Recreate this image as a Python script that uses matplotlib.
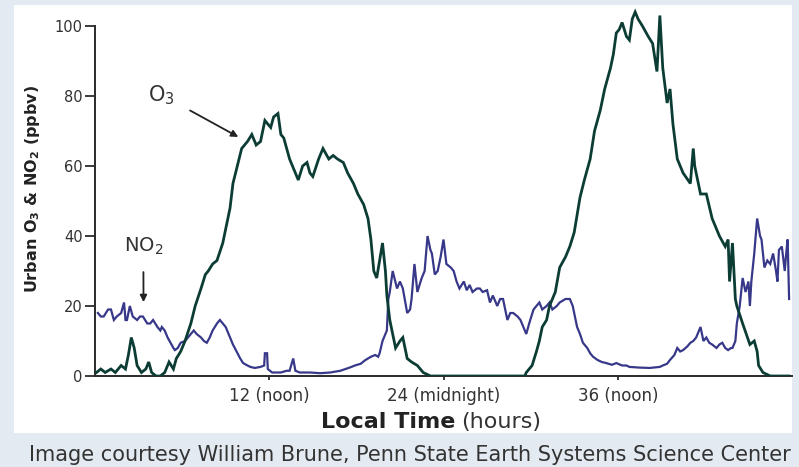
import matplotlib
matplotlib.use("Agg")
import matplotlib.pyplot as plt

# ---------------- data ----------------
o3_hours = [0.1, 0.4, 0.7, 1.1, 1.4, 1.8, 2.1, 2.3, 2.5, 2.7, 2.9, 3.2, 3.5, 3.7, 3.9,
            4.2, 4.5, 4.8, 5.1, 5.4, 5.6, 5.9, 6.2, 6.6, 6.9, 7.3, 7.6, 7.8, 8.1, 8.4,
            8.8, 9.1, 9.3, 9.5, 9.8, 10.1, 10.5, 10.8, 11.1, 11.4, 11.7, 12.1, 12.3, 12.6,
            12.8, 13.0, 13.2, 13.4, 13.7, 14.0, 14.3, 14.6, 14.8, 15.0, 15.4, 15.7, 16.1,
            16.4, 16.7, 17.1, 17.4, 17.8, 18.1, 18.5, 18.8, 19.0, 19.2, 19.4, 19.6, 19.8,
            20.0, 20.1, 20.3, 20.7, 21.0, 21.2, 21.5, 21.8, 22.2, 22.6, 23.1, 26.0, 29.6,
            29.7, 30.1, 30.4, 30.6, 30.8, 31.1, 31.3, 31.7, 32.0, 32.4, 32.7, 33.0, 33.4,
            33.7, 34.1, 34.4, 34.8, 35.1, 35.5, 35.7, 35.9, 36.1, 36.3, 36.6, 36.8, 37.0,
            37.2, 37.4, 37.7, 38.1, 38.4, 38.7, 38.9, 39.1, 39.4, 39.6, 39.8, 40.1, 40.5,
            41.0, 41.2, 41.3, 41.7, 42.1, 42.5, 43.0, 43.4, 43.6, 43.7, 43.9, 44.1, 44.2,
            44.6, 45.1, 45.4, 45.6, 45.7, 46.0, 46.5, 47.8]
o3_ppbv = [1, 2, 1, 2, 1, 3, 2, 6, 11, 8, 3, 1, 2, 4, 1,
           0, 0, 1, 4, 2, 5, 7, 10, 15, 20, 25, 29, 30, 32, 33,
           38, 44, 48, 55, 60, 65, 67, 69, 66, 67, 73, 71, 74, 75,
           69, 68, 65, 62, 59, 56, 60, 61, 58, 57, 62, 65, 62,
           63, 62, 61, 58, 55, 52, 49, 45, 39, 30, 28, 33, 38,
           30, 23, 16, 8, 10, 11, 5, 4, 3, 1, 0, 0, 0,
           1, 3, 7, 10, 14, 16, 20, 24, 31, 34, 37, 41, 51,
           56, 62, 70, 76, 82, 88, 92, 98, 99, 101, 97, 96, 102,
           104, 102, 100, 97, 95, 87, 103, 88, 78, 82, 72, 62, 58,
           55, 65, 60, 52, 52, 45, 40, 37, 39, 27, 38, 22, 20,
           15, 9, 10, 7, 3, 1, 0, 0]

no2_hours = [0.2, 0.4, 0.6, 0.9, 1.1, 1.3, 1.5, 1.8, 2.0, 2.1, 2.2, 2.4, 2.6, 2.9, 3.1,
             3.3, 3.6, 3.8, 4.0, 4.3, 4.5, 4.6, 4.8, 5.0, 5.2, 5.4, 5.5, 5.7, 5.9, 6.2,
             6.4, 6.6, 6.8, 7.0, 7.3, 7.5, 7.7, 7.9, 8.1, 8.4, 8.6, 8.8, 9.0, 9.3, 9.5,
             9.7, 10.0, 10.2, 10.5, 10.7, 11.0, 11.4, 11.65, 11.7, 11.85, 11.9, 12.2, 12.8,
             13.2, 13.4, 13.65, 13.8, 14.1, 14.8, 15.5, 16.2, 16.9, 17.6, 17.9, 18.3, 18.6,
             19.0, 19.3, 19.5, 19.6, 19.8, 20.1, 20.2, 20.3, 20.5, 20.8, 21.0, 21.2, 21.5,
             21.7, 21.8, 22.0, 22.2, 22.5, 22.7, 22.9, 23.1, 23.2, 23.4, 23.6, 23.8, 24.0,
             24.2, 24.5, 24.7, 24.9, 25.1, 25.4, 25.6, 25.8, 26.0, 26.3, 26.5, 26.7, 27.0,
             27.2, 27.4, 27.7, 27.9, 28.1, 28.4, 28.6, 28.8, 29.1, 29.3, 29.5, 29.7, 29.9,
             30.2, 30.4, 30.6, 30.8, 31.1, 31.3, 31.5, 31.8, 32.0, 32.4, 32.7, 32.9, 33.2,
             33.4, 33.6, 33.9, 34.1, 34.3, 34.6, 34.9, 35.2, 35.6, 35.9, 36.3, 36.6, 36.8,
             37.5, 38.2, 38.9, 39.1, 39.4, 39.6, 39.9, 40.1, 40.3, 40.5, 40.8, 41.0, 41.2,
             41.4, 41.7, 41.9, 42.1, 42.3, 42.5, 42.8, 43.0, 43.2, 43.4, 43.6, 43.8, 43.9,
             44.1, 44.2, 44.4, 44.6, 44.8, 45.0, 45.1, 45.2, 45.4, 45.6, 45.8, 45.9, 46.1,
             46.3, 46.5, 46.7, 46.9, 47.0, 47.1, 47.3, 47.5, 47.6, 47.7, 47.8]
no2_ppbv = [18, 17, 17, 19, 19, 16, 17, 18, 21, 16, 16, 20, 17, 16, 17,
            17, 15, 15, 16, 14, 13, 14, 13, 11, 9.5, 8, 7.4, 8, 9.5, 10,
            11, 12, 13, 12, 11, 10, 9.5, 11, 13, 15, 16, 15, 14, 11, 9,
            7.4, 5, 3.7, 3, 2.6, 2.3, 2.6, 3, 6.5, 6.5, 2, 1, 1,
            1.5, 1.5, 5, 1.5, 1, 1, 0.8, 1, 1.5, 2.5, 3, 3.5, 4.5,
            5.5, 6, 5.5, 6.5, 10, 13, 22, 24, 30, 25, 27, 25, 18,
            19, 22, 32, 24, 28, 30, 40, 36, 35, 29, 30, 34, 39,
            32, 31, 30, 27, 25, 27, 24.5, 26, 24, 25, 25, 24, 24.5,
            21, 23, 20, 22, 22, 16, 18, 18, 17, 16, 14, 12, 15,
            19, 20, 21, 19, 20, 21, 19, 20, 21, 22, 22, 20, 14,
            12, 9.5, 8, 6.5, 5.5, 4.6, 4, 3.7, 3.2, 3.7, 3, 3, 2.6,
            2.4, 2.3, 2.6, 3, 3.5, 4.6, 6, 8, 7, 7.4, 8.5, 9.5, 10,
            11, 14, 10, 11, 9.5, 9, 8, 9, 9.5, 8, 7.4, 8, 8,
            10, 15, 20, 28, 24, 27, 20, 27, 35, 45, 40, 39, 31,
            33, 32, 35, 30, 27, 36, 37, 30, 35, 39, 22]

y_ticks = [0, 20, 40, 60, 80, 100]
x_ticks = [12, 24, 36]
x_tick_labels = ["12 (noon)", "24 (midnight)", "36 (noon)"]

# ---------------- figure ----------------
W, H = 799, 467
fig = plt.figure(figsize=(W / 100, H / 100), dpi=100)
fig.patch.set_facecolor("#e4eaf1")

# white panel (background axes)
bg = fig.add_axes([14 / W, 1 - 433 / H, (792 - 14) / W, (433 - 5) / H], zorder=-5)
bg.set_facecolor("white")
bg.set_xticks([])
bg.set_yticks([])
for s in bg.spines.values():
    s.set_visible(False)

ax = fig.add_axes([95 / W, 1 - 376 / H, (792 - 95) / W, (376 - 5) / H], zorder=1)
ax.set_facecolor("none")
ax.set_xlim(0, 48)
ax.set_ylim(0, 106)

dark = "#2b2b2b"
ax.plot(o3_hours, o3_ppbv, color="#0c3d34", lw=2.0, zorder=3, solid_joinstyle="miter")
ax.plot(no2_hours, no2_ppbv, color="#38388a", lw=1.6, zorder=2, solid_joinstyle="miter")

for s in ["top", "right"]:
    ax.spines[s].set_visible(False)
ax.spines["left"].set_bounds(0, 100)
for s in ["left", "bottom"]:
    ax.spines[s].set_color(dark)
    ax.spines[s].set_linewidth(1.4)

ax.set_yticks(y_ticks)
ax.set_yticklabels([str(v) for v in y_ticks])
ax.set_xticks(x_ticks)
ax.set_xticklabels(x_tick_labels)
ax.tick_params(axis="y", direction="out", length=7, width=1.3, color=dark,
               labelsize=10.5, labelcolor="#333333", pad=2)
ax.tick_params(axis="x", direction="out", length=3, width=1.3, color=dark,
               labelsize=12, labelcolor="#333333", pad=5)

# axis labels
fig.text(33 / W, 1 - 189 / H, "Urban O$_\\mathbf{3}$ & NO$_\\mathbf{2}$ (ppbv)",
         rotation=90, ha="center", va="center", fontsize=11.5, fontweight="bold",
         color="#222222")
fig.text(455 / W, 1 - 422 / H, "Local Time", ha="right", va="center",
         fontsize=16, fontweight="bold", color="#222222")
fig.text(461 / W, 1 - 422 / H, "(hours)", ha="left", va="center",
         fontsize=16, color="#333333")

# annotations
ax.annotate("O$_3$", xy=(9.87, 68.3), xytext=(4.6, 80.3), ha="center", va="center",
            fontsize=15, color="#333333",
            arrowprops=dict(arrowstyle="-|>", color="#222222", lw=1.3,
                            shrinkA=10, shrinkB=0, mutation_scale=10))
ax.annotate("NO$_2$", xy=(3.34, 21.1), xytext=(3.33, 37.1), ha="center", va="center",
            fontsize=14, color="#333333",
            arrowprops=dict(arrowstyle="-|>", color="#222222", lw=1.3,
                            shrinkA=9, shrinkB=0, mutation_scale=10))

# caption
fig.text(410 / W, 1 - 455 / H,
         "Image courtesy William Brune, Penn State Earth Systems Science Center",
         ha="center", va="center", fontsize=15, color="#333333")

fig.savefig("out.png", dpi=100, facecolor=fig.get_facecolor())
